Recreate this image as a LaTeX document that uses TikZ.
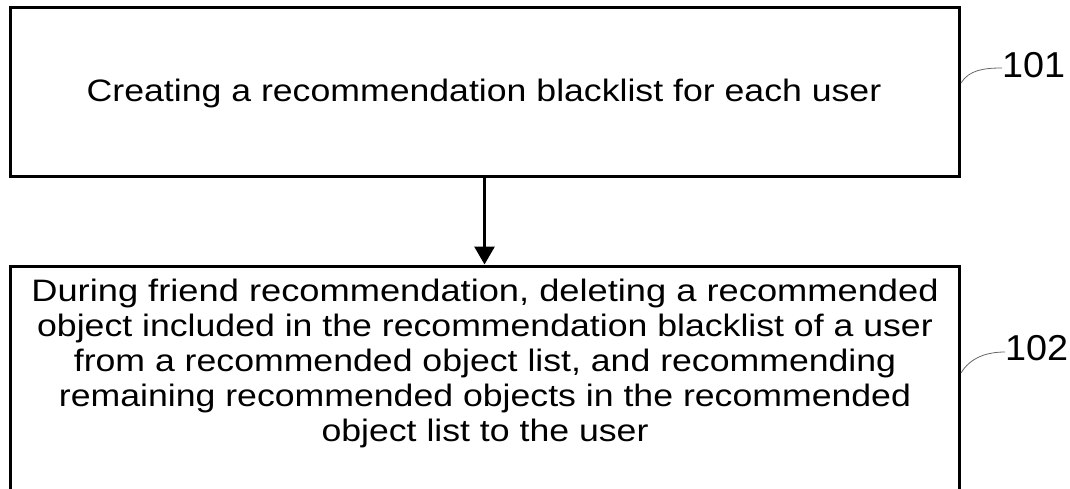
\documentclass[tikz,border=0pt]{standalone}
\usepackage{fontspec}
\setmainfont{Liberation Sans}[FakeStretch=1.15]
\newfontfamily\labelfont{Liberation Sans}[FakeStretch=1.05]
\usetikzlibrary{arrows.meta}
\begin{document}
\begin{tikzpicture}[x=1pt,y=-1pt,
  stepbox/.style={draw=black,line width=3pt,minimum width=949pt,inner sep=0pt},
  bodytext/.style={font=\fontsize{31}{35}\selectfont,align=center,inner sep=0pt},
  reflabel/.style={font=\labelfont\fontsize{36}{40}\selectfont,inner sep=0pt,anchor=west},
  leader/.style={draw=black!60,line width=0.8pt},
  flow/.style={line width=3pt,-{Triangle[width=20pt,length=18pt]}}]
\useasboundingbox (0,0) rectangle (1070,489);
\clip (0,0) rectangle (1070,489);
\node[stepbox,minimum height=169pt] (b1) at (484.5,92.5) {};
\node[stepbox,minimum height=260pt] (b2) at (484.5,396) {};
\node[bodytext,anchor=base] (t1) at (484,102) {Creating a recommendation blacklist for each user};
\node[bodytext,anchor=north] (t2) at (485,279) {\addfontfeature{FakeStretch=1.17}During friend recommendation, deleting a recommended\\object included in the recommendation blacklist of a user\\from a recommended object list, and recommending\\remaining recommended objects in the recommended\\object list to the user};
\draw[flow] (b1.south) -- (b2.north);
\node[reflabel] (l1) at (1002,65) {101};
\node[reflabel] (l2) at (1005,348) {102};
\coordinate (s1) at (961,83);
\coordinate (s2) at (961,373);
\draw[leader] (s1) .. controls (969,70) and (984,68) .. (l1.west |- 0,68);
\draw[leader] (s2) .. controls (970,358) and (986,352) .. (l2.west |- 0,352);
\end{tikzpicture}
\end{document}
